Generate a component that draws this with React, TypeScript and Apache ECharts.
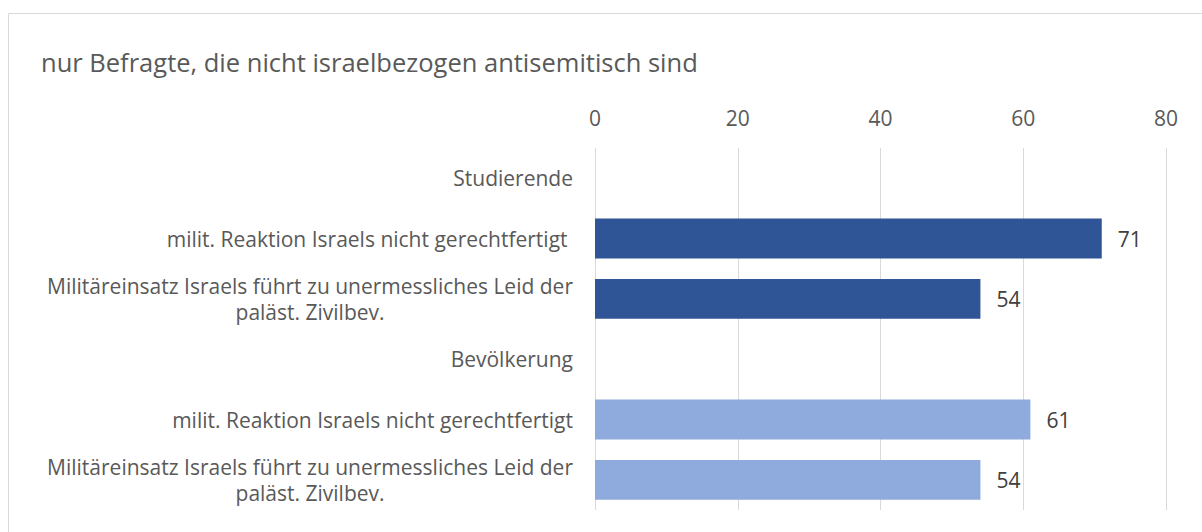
import React, { useEffect, useRef } from "react";
import * as echarts from "echarts";

const titleText = "nur Befragte, die nicht israelbezogen antisemitisch sind";
const categories = [
  "Studierende",
  "milit. Reaktion Israels nicht gerechtfertigt ",
  "Militäreinsatz Israels führt zu unermessliches Leid der\npaläst. Zivilbev.",
  "Bevölkerung",
  "milit. Reaktion Israels nicht gerechtfertigt",
  "Militäreinsatz Israels führt zu unermessliches Leid der\npaläst. Zivilbev.",
];
const values: (number | null)[] = [null, 71, 54, null, 61, 54];
const groupOf = ["S", "S", "S", "B", "B", "B"];
const tickMin = 0;
const tickMax = 80;
const tickStep = 20;

const DARK = "#2F5597";
const LIGHT = "#8FAADC";
const TEXT = "#595959";
const FONT = "'Open Sans', sans-serif";
const FS = 21;

export default function App() {
  const ref = useRef<HTMLDivElement>(null);
  useEffect(() => {
    if (!ref.current) return;
    const chart = echarts.init(ref.current, null, { renderer: "svg" });
    chart.setOption({
      animation: false,
      textStyle: { fontFamily: FONT },
      title: {
        text: titleText,
        left: 36,
        top: 44,
        textStyle: { fontFamily: FONT, fontSize: 25.5, fontWeight: "normal", color: TEXT },
      },
      graphic: [
        {
          type: "rect",
          shape: { x: 8.5, y: 13.5, width: 1300, height: 600 },
          style: { fill: "none", stroke: "#D9D9D9", lineWidth: 1 },
          silent: true,
        },
      ],
      grid: { left: 595, right: 36, top: 148, bottom: 22, containLabel: false },
      xAxis: {
        type: "value",
        position: "top",
        min: tickMin,
        max: tickMax,
        interval: tickStep,
        axisLine: { show: false },
        axisTick: { show: false },
        axisLabel: { color: TEXT, fontSize: FS, margin: 20, fontFamily: FONT },
        splitLine: { show: true, lineStyle: { color: "#D9D9D9", width: 1 } },
      },
      yAxis: {
        type: "category",
        inverse: true,
        data: categories,
        axisLine: { show: false },
        axisTick: { show: false },
        axisLabel: {
          color: TEXT,
          fontSize: FS,
          margin: 22,
          fontFamily: FONT,
          lineHeight: 26,
          formatter: (v: string) => {
            const parts = v.split("\n");
            if (parts.length === 1) return "{a|" + v + "}";
            return "{a|" + parts[0] + "}\n{c|" + parts[1] + "}";
          },
          rich: {
            a: { color: TEXT, fontSize: FS, fontFamily: FONT, lineHeight: 26 },
            c: { color: TEXT, fontSize: FS, fontFamily: FONT, lineHeight: 26, align: "center" },
          },
        },
        splitLine: { show: false },
      },
      series: [
        {
          type: "bar",
          barWidth: "66%",
          data: values.map((v, i) => ({
            value: v,
            itemStyle: { color: groupOf[i] === "S" ? DARK : LIGHT },
          })),
          label: {
            show: true,
            position: "right",
            distance: 16,
            color: "#404040",
            fontSize: FS,
            fontFamily: FONT,
            formatter: (p: any) => (p.value == null ? "" : String(p.value)),
          },
        },
      ],
    });
    return () => chart.dispose();
  }, []);
  return (
    <div
      ref={ref}
      style={{ position: "fixed", left: 0, top: 0, width: 1202, height: 532, background: "#fff" }}
    />
  );
}
